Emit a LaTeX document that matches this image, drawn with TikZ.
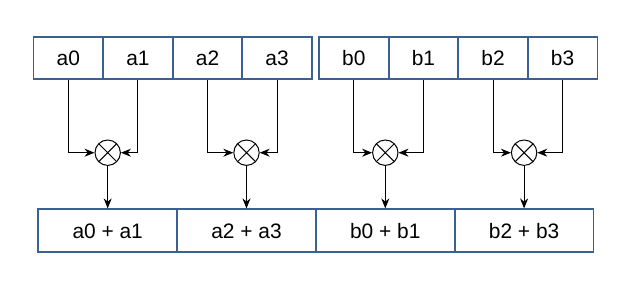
\documentclass[tikz,border=0pt]{standalone}
\usepackage{fontspec}
\setmainfont{Liberation Sans}
\usetikzlibrary{arrows.meta}
\definecolor{boxblue}{RGB}{58,96,148}
\tikzset{
  cell/.style={draw=boxblue, line width=1.8bp, minimum width=69.6bp, minimum height=42.6bp, inner sep=0pt, font=\fontsize{21}{24}\selectfont},
  sumcell/.style={draw=boxblue, line width=1.8bp, minimum width=138.8bp, minimum height=43bp, inner sep=0pt, font=\fontsize{21}{24}\selectfont},
  mult/.style={draw, circle, line width=1bp, minimum size=25.4bp, inner sep=0pt, path picture={\draw[line width=1bp] (path picture bounding box.north west)--(path picture bounding box.south east) (path picture bounding box.north east)--(path picture bounding box.south west);}},
  conn/.style={line width=0.9bp, -{Stealth[length=10bp,width=8bp]}}
}
\begin{document}
\begin{tikzpicture}[x=1bp,y=-1bp]
\useasboundingbox (0,0) rectangle (632,291);
% top cells
\foreach \n/\x in {a0/68.3,a1/137.9,a2/207.5,a3/277.1,b0/353.8,b1/423.4,b2/493.0,b3/562.6}
  \node[cell] (\n) at (\x,58) {\n};
% bottom cells
\node[sumcell] (s0) at (107.7,230.8) {a0 + a1};
\node[sumcell] (s1) at (246.5,230.8) {a2 + a3};
\node[sumcell] (s2) at (385.3,230.8) {b0 + b1};
\node[sumcell] (s3) at (524.1,230.8) {b2 + b3};
% multipliers
\foreach \i/\l/\r in {0/a0/a1,1/a2/a3,2/b0/b1,3/b2/b3}{
  \node[mult] (m\i) at (s\i.center |- 0,152.7) {};
  \draw[conn] (\l.south) |- (m\i.west);
  \draw[conn] (\r.south) |- (m\i.east);
  \draw[conn] (m\i.south) -- (s\i.north);
}
\end{tikzpicture}
\end{document}
